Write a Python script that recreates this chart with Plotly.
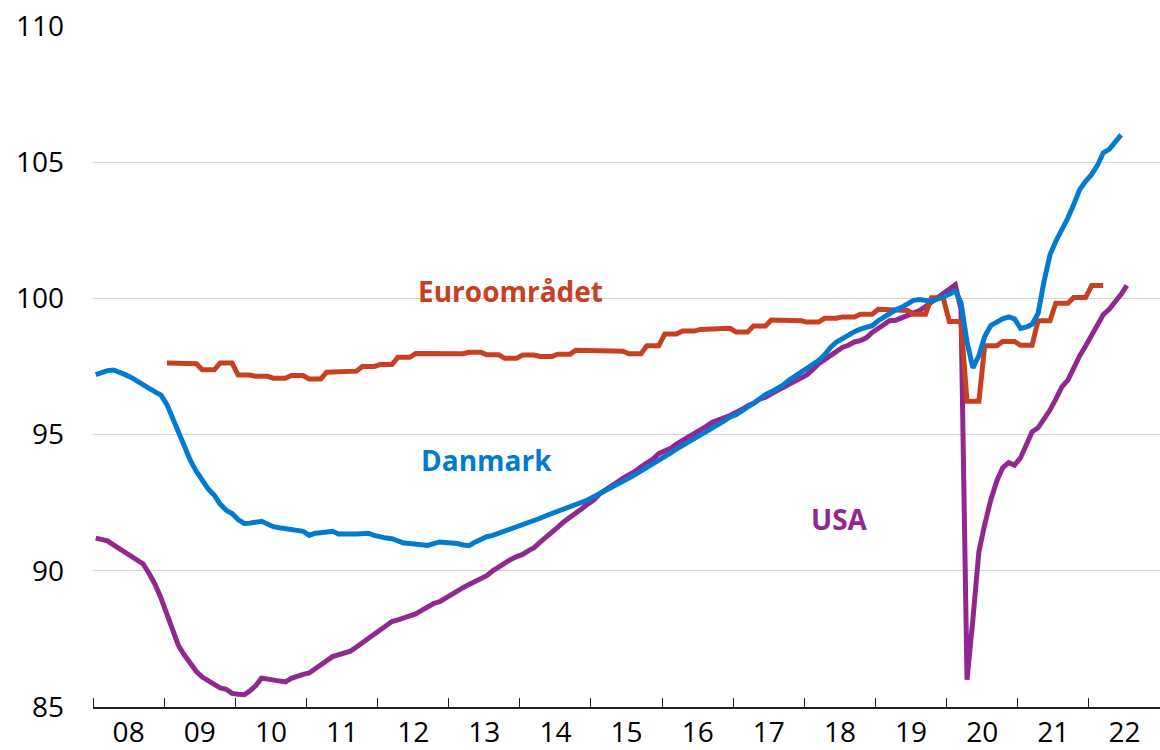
import plotly.graph_objects as go
import pandas as pd

# ---- data ----
danmark = [
    97.2, 97.28, 97.35, 97.37, 97.3, 97.2, 97.1, 96.95, 96.82, 96.7, 96.57, 96.45,
    96.1, 95.55, 95.05, 94.55, 94.05, 93.65, 93.3, 93.0, 92.77, 92.45, 92.22, 92.1,
    91.88, 91.74, 91.75, 91.8, 91.82, 91.72, 91.62, 91.58, 91.55, 91.53, 91.52, 91.45,
    91.3, 91.38, 91.4, 91.42, 91.45, 91.35, 91.33, 91.35, 91.35, 91.38, 91.38, 91.3,
    91.24, 91.2, 91.18, 91.1, 91.02, 91.0, 90.99, 90.97, 90.93, 91.0, 91.06, 91.04,
    91.03, 91.0, 90.95, 90.92, 91.05, 91.17, 91.25, 91.3, 91.38, 91.43, 91.5, 91.58,
    91.67, 91.77, 91.85, 91.93, 92.02, 92.1, 92.17, 92.25, 92.33, 92.42, 92.52, 92.6,
    92.72, 92.83, 92.95, 93.06, 93.17, 93.28, 93.4, 93.53, 93.66, 93.78, 93.9, 94.05,
    94.2, 94.33, 94.47, 94.6, 94.72, 94.85, 94.98, 95.1, 95.2, 95.33, 95.5, 95.65,
    95.73, 95.88, 96.03, 96.15, 96.3, 96.47, 96.57, 96.7, 96.82, 97.0, 97.15, 97.28,
    97.42, 97.55, 97.72, 97.93, 98.2, 98.4, 98.53, 98.68, 98.78, 98.87, 98.92, 99.0,
    99.18, 99.32, 99.45, 99.58, 99.67, 99.8, 99.93, 99.96, 99.91, 99.9, 99.97, 100.05,
    100.15, 100.27, 99.85, 98.4, 97.45, 97.9, 98.6, 99.0, 99.15, 99.25, 99.32, 99.25,
    98.9, 98.95, 99.05, 99.45, 100.6, 101.6, 102.1, 102.5, 102.95, 103.45, 104.0, 104.3,
    104.55, 104.9, 105.34, 105.47, 105.75, 106.0,
]

usa = [
    91.2, 91.13, 91.1, 90.95, 90.82, 90.7, 90.55, 90.4, 90.25, 89.9, 89.5, 89.0,
    88.4, 87.8, 87.25, 86.9, 86.6, 86.3, 86.1, 85.95, 85.83, 85.7, 85.65, 85.5,
    85.47, 85.45, 85.58, 85.78, 86.06, 86.02, 85.97, 85.94, 85.92, 86.05, 86.15, 86.2,
    86.25, 86.42, 86.55, 86.7, 86.85, 86.92, 87.0, 87.05, 87.2, 87.35, 87.5, 87.65,
    87.85, 88.0, 88.14, 88.2, 88.27, 88.32, 88.42, 88.55, 88.68, 88.8, 88.87, 89.0,
    89.15, 89.3, 89.38, 89.5, 89.62, 89.74, 89.82, 90.0, 90.15, 90.3, 90.42, 90.52,
    90.6, 90.74, 90.85, 91.05, 91.25, 91.4, 91.6, 91.8, 91.95, 92.1, 92.28, 92.45,
    92.6, 92.83, 92.98, 93.1, 93.25, 93.4, 93.5, 93.65, 93.82, 93.95, 94.1, 94.3,
    94.4, 94.5, 94.65, 94.78, 94.9, 95.0, 95.15, 95.3, 95.45, 95.55, 95.62, 95.7,
    95.8, 95.93, 96.05, 96.15, 96.3, 96.37, 96.5, 96.62, 96.75, 96.86, 96.95, 97.08,
    97.2, 97.4, 97.6, 97.75, 97.9, 98.08, 98.2, 98.28, 98.4, 98.45, 98.55, 98.75,
    98.9, 99.05, 99.18, 99.2, 99.28, 99.35, 99.45, 99.55, 99.7, 99.85, 100.0, 100.15,
    100.3, 100.5, 99.6, 86.0, 88.2, 90.7, 91.7, 92.6, 93.3, 93.78, 93.97, 93.88,
    94.15, 94.7, 95.1, 95.25, 95.55, 95.9, 96.3, 96.75, 97.0, 97.45, 97.9, 98.25,
    98.63, 99.05, 99.4, 99.6, 99.85, 100.15, 100.48,
]

# Euro area: quarterly values, Q1 2009 - Q1 2022 (shown monthly)
euro_q = [
    97.63, 97.6, 97.38, 97.63,
    97.19, 97.14, 97.07, 97.17,
    97.04, 97.29, 97.33, 97.5,
    97.57, 97.84, 97.98, 97.99,
    97.97, 98.02, 97.93, 97.8,
    97.92, 97.87, 97.95, 98.1,
    98.06, 98.06, 97.97, 98.26,
    98.69, 98.8, 98.86, 98.9,
    98.77, 98.99, 99.21, 99.18,
    99.13, 99.27, 99.32, 99.42,
    99.6, 99.56, 99.42, 100.02,
    99.15, 96.22, 98.26, 98.42,
    98.28, 99.18, 99.82, 100.03,
    100.47,
]

y_ticks = [85, 90, 95, 100, 105, 110]

dk_dates = pd.date_range("2008-01-01", periods=len(danmark), freq="MS") + pd.Timedelta(days=14)
us_dates = pd.date_range("2008-01-01", periods=len(usa), freq="MS") + pd.Timedelta(days=14)
eu_dates = pd.date_range("2009-01-01", periods=len(euro_q) * 3, freq="MS") + pd.Timedelta(days=14)
euro = [v for v in euro_q for _ in range(3)]

BLUE = "#007BD1"
RED = "#C8401F"
PURPLE = "#92278F"
LW = 5

fig = go.Figure()
fig.add_trace(go.Scatter(x=us_dates, y=usa, mode="lines",
                         line=dict(color=PURPLE, width=LW), name="USA"))
fig.add_trace(go.Scatter(x=eu_dates, y=euro, mode="lines",
                         line=dict(color=RED, width=LW), name="Euroområdet"))
fig.add_trace(go.Scatter(x=dk_dates, y=danmark, mode="lines",
                         line=dict(color=BLUE, width=LW), name="Danmark"))

label_font = dict(family="Open Sans", size=28)
fig.add_annotation(x="2013-11-16", y=100.26, text="<b>Euroområdet</b>", showarrow=False,
                   font=dict(color=RED, **label_font))
fig.add_annotation(x="2013-07-15", y=94.08, text="<b>Danmark</b>", showarrow=False,
                   font=dict(color=BLUE, **label_font))
fig.add_annotation(x="2018-07-01", y=91.92, text="<b>USA</b>", showarrow=False,
                   font=dict(color=PURPLE, **label_font))

fig.update_layout(
    width=1160, height=750,
    margin=dict(l=93, r=0, t=26, b=40),
    paper_bgcolor="white", plot_bgcolor="white",
    showlegend=False,
    font=dict(family="Open Sans", size=28, color="black"),
)
fig.update_xaxes(
    type="date",
    range=["2008-01-01", "2023-01-01"],
    dtick="M12", tick0="2008-01-01",
    tickformat="%y", ticklabelmode="period",
    ticks="inside", ticklen=9, tickwidth=1.2, tickcolor="#222",
    showline=True, linecolor="#222", linewidth=1.5,
    showgrid=False, zeroline=False,
    tickfont=dict(size=28),
)
fig.update_yaxes(
    range=[85, 110],
    tickvals=y_ticks, ticktext=[str(v) for v in y_ticks],
    showgrid=True, gridcolor="#d4d4d4", gridwidth=1,
    zeroline=False, showline=False, ticks="",
    ticklabelstandoff=28,
    tickfont=dict(size=28),
)

fig.write_html("out.html", config={"displayModeBar": False},
               post_script="document.body.style.margin='0';")
